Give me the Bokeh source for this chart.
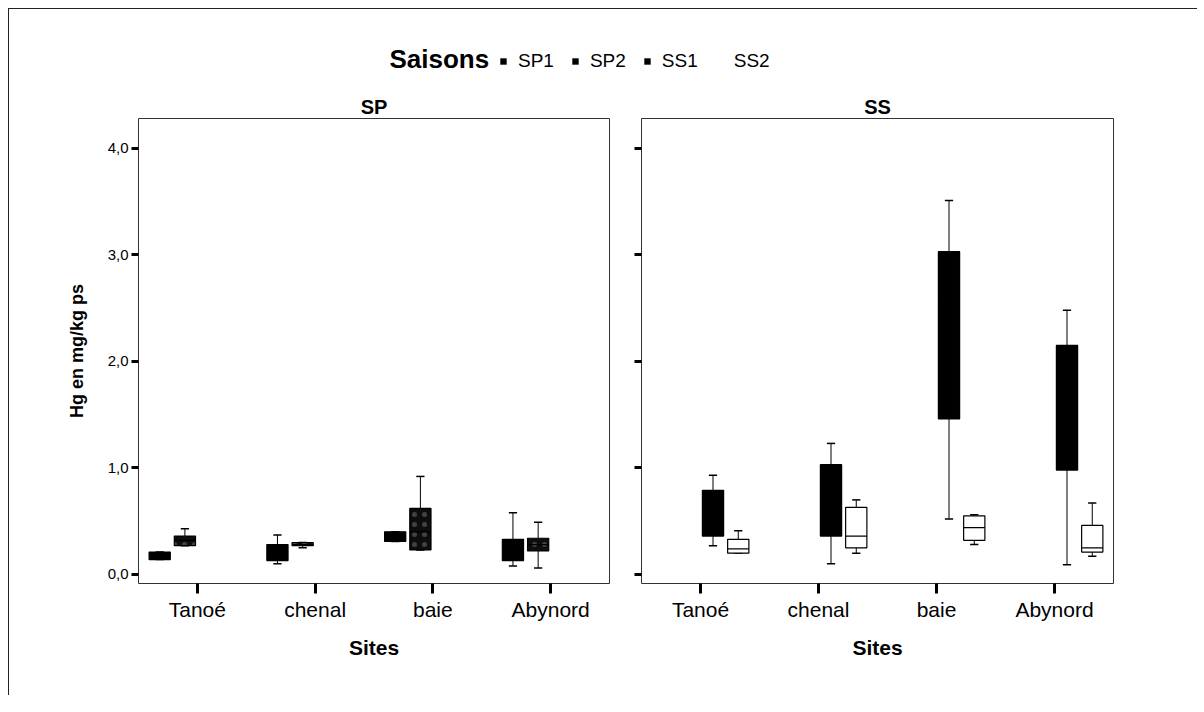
import numpy as np
from bokeh.plotting import figure
from bokeh.models import (Range1d, FactorRange, ColumnDataSource, Label, Legend,
                          LegendItem, FixedTicker)
from bokeh.transform import dodge
from bokeh.layouts import column, row
from bokeh.embed import file_html
from bokeh.resources import INLINE

# ---------------- data ----------------
sites = ["Tanoé", "chenal", "baie", "Abynord"]
seasons = ["SP1", "SP2", "SS1", "SS2"]
y_ticks = [0, 1, 2, 3, 4]
y_tick_labels = ["0,0", "1,0", "2,0", "3,0", "4,0"]

sp1_low = [0.14, 0.10, 0.31, 0.08]
sp1_q1 = [0.14, 0.13, 0.31, 0.13]
sp1_med = [0.17, 0.18, 0.35, 0.20]
sp1_q3 = [0.21, 0.28, 0.40, 0.33]
sp1_high = [0.21, 0.37, 0.40, 0.58]

sp2_low = [0.27, 0.25, 0.23, 0.06]
sp2_q1 = [0.27, 0.27, 0.23, 0.22]
sp2_med = [0.32, 0.28, 0.40, 0.28]
sp2_q3 = [0.36, 0.30, 0.62, 0.34]
sp2_high = [0.43, 0.30, 0.92, 0.49]

ss1_low = [0.27, 0.10, 0.52, 0.09]
ss1_q1 = [0.36, 0.36, 1.46, 0.98]
ss1_med = [0.58, 0.43, 2.57, 1.50]
ss1_q3 = [0.79, 1.03, 3.03, 2.15]
ss1_high = [0.93, 1.23, 3.51, 2.48]

ss2_low = [0.20, 0.20, 0.28, 0.17]
ss2_q1 = [0.20, 0.25, 0.32, 0.21]
ss2_med = [0.24, 0.36, 0.44, 0.25]
ss2_q3 = [0.33, 0.63, 0.55, 0.46]
ss2_high = [0.41, 0.70, 0.56, 0.67]

FONT = "Liberation Sans"
BOX_W = 0.18
CAP = 0.035


def source(low, q1, med, q3, high):
    return ColumnDataSource(dict(site=sites, low=low, q1=q1, med=med, q3=q3, high=high))


def draw_box(p, src, off, fill, hatch=False):
    xr = p.x_range
    xc = dodge("site", off, range=xr)
    xl = dodge("site", off - CAP, range=xr)
    xr_ = dodge("site", off + CAP, range=xr)
    p.segment(x0=xc, y0="q3", x1=xc, y1="high", source=src, line_color="black", line_width=1)
    p.segment(x0=xc, y0="q1", x1=xc, y1="low", source=src, line_color="black", line_width=1)
    p.segment(x0=xl, y0="high", x1=xr_, y1="high", source=src, line_color="black", line_width=1.5)
    p.segment(x0=xl, y0="low", x1=xr_, y1="low", source=src, line_color="black", line_width=1.5)
    kw = {}
    if hatch:
        kw = dict(hatch_pattern="dot", hatch_color="white", hatch_alpha=0.22, hatch_scale=10, hatch_weight=1)
    p.vbar(x=xc, width=BOX_W, bottom="q1", top="q3", source=src,
           fill_color=fill, line_color="black", line_width=1.2, **kw)
    ml = dodge("site", off - BOX_W / 2, range=xr)
    mr = dodge("site", off + BOX_W / 2, range=xr)
    p.segment(x0=ml, y0="med", x1=mr, y1="med", source=src, line_color="black", line_width=1.2)


def make_panel(title, frame_w, left_b, right_b, show_labels):
    p = figure(x_range=FactorRange(factors=sites, range_padding=0),
               y_range=Range1d(-0.085, 4.28),
               frame_width=frame_w, frame_height=465,
               min_border_left=left_b, min_border_right=right_b,
               min_border_top=29, min_border_bottom=112,
               output_backend="svg", toolbar_location=None, title=title)
    p.title.align = "center"
    p.title.text_font = FONT
    p.title.text_font_size = "20px"
    p.title.text_font_style = "bold"
    p.title.text_color = "black"
    p.title.standoff = 2
    p.xgrid.visible = False
    p.ygrid.visible = False
    p.outline_line_color = "#333333"
    p.outline_line_width = 1
    p.background_fill_color = "white"
    p.border_fill_color = "white"

    p.yaxis.ticker = FixedTicker(ticks=y_ticks)
    p.yaxis.axis_line_color = None
    p.yaxis.minor_tick_line_color = None
    p.yaxis.major_tick_in = 0
    p.yaxis.major_tick_out = 7
    p.yaxis.major_tick_line_width = 3
    p.yaxis.major_tick_line_color = "black"
    p.yaxis.major_label_text_font = FONT
    p.yaxis.major_label_text_font_size = "15px"
    p.yaxis.major_label_text_color = "black"
    p.yaxis.major_label_standoff = 3
    if show_labels:
        p.yaxis.major_label_overrides = {t: l for t, l in zip(y_ticks, y_tick_labels)}
        p.yaxis.axis_label = "Hg en mg/kg ps"
        p.yaxis.axis_label_text_font = FONT
        p.yaxis.axis_label_text_font_size = "18px"
        p.yaxis.axis_label_text_font_style = "bold"
        p.yaxis.axis_label_text_color = "black"
        p.yaxis.axis_label_standoff = 18
    else:
        p.yaxis.major_label_overrides = {t: "" for t in y_ticks}

    p.xaxis.axis_line_color = None
    p.xaxis.major_tick_in = 0
    p.xaxis.major_tick_out = 10
    p.xaxis.major_tick_line_width = 3
    p.xaxis.major_tick_line_color = "black"
    p.xaxis.major_label_text_font = FONT
    p.xaxis.major_label_text_font_size = "21px"
    p.xaxis.major_label_text_color = "black"
    p.xaxis.major_label_standoff = 4
    p.xaxis.axis_label = "Sites"
    p.xaxis.axis_label_text_font = FONT
    p.xaxis.axis_label_text_font_size = "21px"
    p.xaxis.axis_label_text_font_style = "bold"
    p.xaxis.axis_label_text_color = "black"
    p.xaxis.axis_label_standoff = 12
    return p


left = make_panel("SP", 471, 129, 16, True)
right = make_panel("SS", 472, 16, 84, False)

draw_box(left, source(sp1_low, sp1_q1, sp1_med, sp1_q3, sp1_high), -0.32, "black")
draw_box(left, source(sp2_low, sp2_q1, sp2_med, sp2_q3, sp2_high), -0.106, "#0d0d0d", hatch=True)
draw_box(right, source(ss1_low, ss1_q1, ss1_med, ss1_q3, ss1_high), 0.106, "black")
draw_box(right, source(ss2_low, ss2_q1, ss2_med, ss2_q3, ss2_high), 0.32, "white")

# ---------------- legend strip ----------------
top = figure(width=1188, height=80, x_range=Range1d(0, 1188), y_range=Range1d(0, 80),
             min_border=0, output_backend="svg", toolbar_location=None)
top.axis.visible = False
top.grid.visible = False
top.outline_line_color = None
top.border_fill_color = "white"

legend_colors = ["black", "black", "black", "white"]
items = []
for s, c in zip(seasons, legend_colors):
    r = top.quad(left=[np.nan], right=[np.nan], bottom=[np.nan], top=[np.nan],
                 fill_color=c, line_color=None)
    items.append(LegendItem(label=s, renderers=[r]))

top.add_layout(Label(x=380, y=31, text="Saisons", text_font=FONT, text_font_size="26px",
                     text_font_style="bold", text_color="black",
                     text_baseline="middle", text_align="left"))
leg = Legend(items=items, orientation="horizontal", location=(490, 17),
             glyph_width=8, glyph_height=8, label_text_font=FONT, label_text_font_size="19px",
             label_text_color="black",
             label_standoff=11, spacing=17, padding=0, margin=0,
             border_line_color=None, background_fill_alpha=0)
top.add_layout(leg, "center")

layout = column(top, row(left, right), margin=(8, 0, 0, 8),
                styles={"border-left": "1px solid #222", "border-top": "1px solid #222"})

open("out.html", "w").write(file_html(layout, INLINE))
